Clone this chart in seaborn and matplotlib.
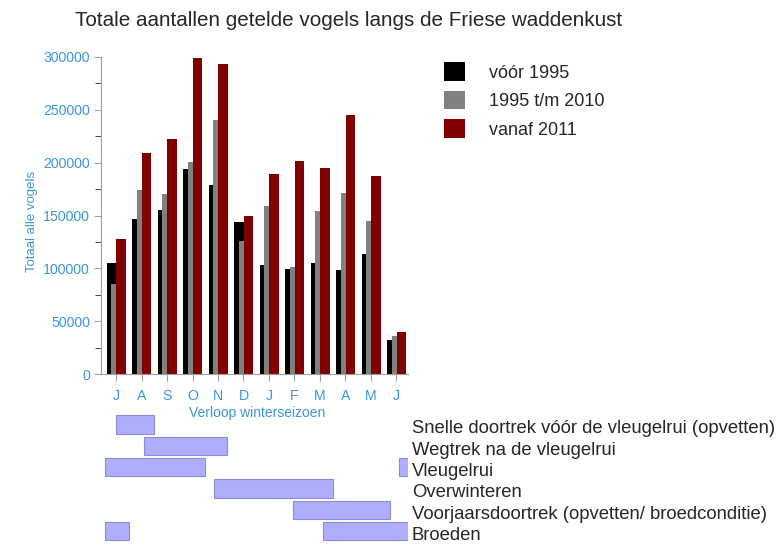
import matplotlib
matplotlib.use("Agg")
import matplotlib.pyplot as plt
import numpy as np
import seaborn as sns
from matplotlib.patches import Patch
from matplotlib.ticker import AutoMinorLocator

# Data: monthly totals (July .. June)
months = ["J", "A", "S", "O", "N", "D", "J", "F", "M", "A", "M", "J"]
voor_1995 = [105000, 147000, 155000, 194000, 179000, 144000, 103000, 99000, 105000, 98000, 114000, 32000]
tm_2010 = [85000, 174000, 170000, 201000, 240000, 126000, 159000, 101000, 154000, 171000, 145000, 36000]
vanaf_2011 = [128000, 209000, 222000, 299000, 293000, 150000, 189000, 202000, 195000, 245000, 187000, 40000]
series_names = ["vóór 1995", "1995 t/m 2010", "vanaf 2011"]

# Phases of the season, in month positions (0 = July)
phase_names = [
    "Snelle doortrek vóór de vleugelrui (opvetten)",
    "Wegtrek na de vleugelrui",
    "Vleugelrui",
    "Overwinteren",
    "Voorjaarsdoortrek (opvetten/ broedconditie)",
    "Broeden",
]
phase_row = [0, 1, 2, 2, 3, 4, 5, 5]
phase_start = [0.0, 1.1, -0.45, 11.1, 3.85, 6.95, -0.45, 8.1]
phase_end = [1.5, 4.35, 3.5, 11.5, 8.5, 10.75, 0.5, 11.5]

sns.set_style("ticks")
plt.rcParams["font.family"] = ["Liberation Sans", "DejaVu Sans"]

blue = "#3a96e0"
axis_grey = "#a0a0a0"
colors = ["#000000", "#808080", "#800000"]
offsets = [-0.17, 0.0, 0.19]

fig = plt.figure(figsize=(7.81, 5.48), dpi=100)
ax = fig.add_axes([0.1293, 0.3175, 0.393, 0.5785])

x = np.arange(len(months))
for vals, col, off in zip([voor_1995, tm_2010, vanaf_2011], colors, offsets):
    sns.barplot(x=x + off, y=vals, native_scale=True, width=0.37, color=col,
                saturation=1, errorbar=None, linewidth=0, ax=ax)

ax.set_xlim(-0.59, 11.45)
ax.set_ylim(0, 300000)
ax.set_xticks(x)
ax.set_xticklabels(months)
ax.set_yticks(np.arange(0, 300001, 50000))
ax.yaxis.set_minor_locator(AutoMinorLocator(2))
ax.tick_params(axis="both", colors=axis_grey, labelcolor=blue, labelsize=10.2)
ax.tick_params(axis="x", length=5, pad=6)
ax.tick_params(axis="y", which="major", length=5, pad=3)
ax.tick_params(axis="y", which="minor", length=4)
for s in ["top", "right"]:
    ax.spines[s].set_visible(False)
for s in ["left", "bottom"]:
    ax.spines[s].set_color(axis_grey)

ax.set_ylabel("Totaal alle vogels", color=blue, fontsize=9.5)
ax.yaxis.set_label_coords(-0.205, 0.48)
ax.set_xlabel("Verloop winterseizoen", color=blue, fontsize=10)
ax.xaxis.set_label_coords(0.51, -0.1)

handles = [Patch(facecolor=c, edgecolor="none") for c in colors]
fig.legend(handles, series_names, loc="upper left", bbox_to_anchor=(0.568, 0.886),
           frameon=False, fontsize=13, handlelength=1.2, handleheight=1.2,
           labelspacing=0.5, handletextpad=1.3, borderpad=0, borderaxespad=0)

fig.text(0.096, 0.9526, "Totale aantallen getelde vogels langs de Friese waddenkust",
         fontsize=14.9, va="baseline")

# Season phase bars
ax2 = fig.add_axes([0.1293, 0.011, 0.393, 0.234])
ax2.barh(phase_row, np.array(phase_end) - np.array(phase_start), left=phase_start,
         height=0.85, color="#aeaefc", edgecolor="#8c8cd8", linewidth=0.8)
ax2.set_xlim(ax.get_xlim())
ax2.set_ylim(5.5, -0.5)
ax2.axis("off")
for i, name in enumerate(phase_names):
    ax2.text(11.6, i + 0.2, name, va="center", ha="left", fontsize=13.3, clip_on=False)

fig.savefig("out.png", dpi=100)
